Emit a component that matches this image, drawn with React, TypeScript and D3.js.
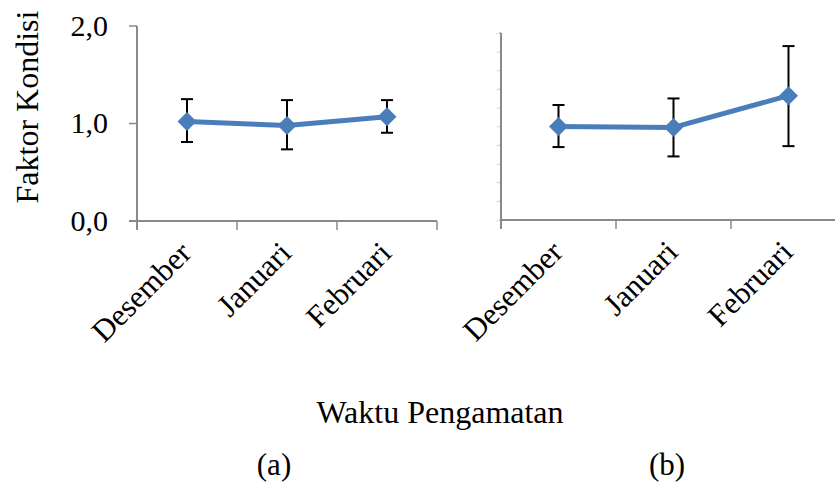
import React from "react";
import { scaleBand, scaleLinear, line, range } from "d3";

// categories and values
const months = ["Desember", "Januari", "Februari"];
const meanA = [1.02, 0.98, 1.07];
const upperA = [1.25, 1.24, 1.24];
const lowerA = [0.81, 0.735, 0.905];
const meanB = [1.0, 0.99, 1.33];
const upperB = [1.23, 1.3, 1.86];
const lowerB = [0.78, 0.68, 0.79];
const ticksA = [0, 1, 2];
const ticksB = range(0, 2.01, 0.2);

const BLUE = "#4a7ebb";
const AXIS = "#8a8a8a";
const FONT = '"Liberation Serif", "Times New Roman", Times, serif';

type PanelProps = {
  x0: number;
  x1: number;
  yTop: number;
  yBottom: number;
  mean: number[];
  upper: number[];
  lower: number[];
  ticks: number[];
  tickSize: number;
  tickLen: number;
  tickGap: number;
};

function Panel({ x0, x1, yTop, yBottom, mean, upper, lower, ticks, tickSize, tickLen, tickGap }: PanelProps) {
  const x = scaleBand<string>().domain(months).range([x0, x1]);
  const y = scaleLinear().domain([0, 2]).range([yBottom, yTop]);
  const cx = (m: string) => (x(m) as number) + x.bandwidth() / 2;
  const pts = months.map((m, i) => [cx(m), y(mean[i])] as [number, number]);
  const path = line()(pts) || "";
  const bounds = months.map((m) => x(m) as number).concat([x1]);

  return (
    <g>
      {/* y axis */}
      <line x1={x0} x2={x0} y1={yTop} y2={yBottom + 9} stroke={AXIS} strokeWidth={2} />
      {ticks.map((t) => (
        <g key={t}>
          <line x1={x0 - tickLen} x2={x0} y1={y(t)} y2={y(t)} stroke={AXIS} strokeWidth={1.5} />
          <text
            x={x0 - tickLen - tickGap}
            y={y(t)}
            dy="0.33em"
            textAnchor="end"
            fontSize={tickSize}
            fill={tickSize > 5 ? "#000" : "#999"}
            style={{ fontFamily: FONT }}
          >
            {t.toFixed(1).replace(".", ",")}
          </text>
        </g>
      ))}
      {/* x axis */}
      <line x1={x0 - (tickLen > 3 ? tickLen : 0)} x2={x1} y1={yBottom} y2={yBottom} stroke={AXIS} strokeWidth={2} />
      {bounds.map((b, i) => (
        <line key={i} x1={b} x2={b} y1={yBottom} y2={yBottom + 9} stroke={AXIS} strokeWidth={1.5} />
      ))}
      {months.map((m) => (
        <text
          key={m}
          transform={`translate(${cx(m) + 6},${yBottom + 34}) rotate(-45)`}
          textAnchor="end"
          fontSize={31}
          style={{ fontFamily: FONT }}
        >
          {m}
        </text>
      ))}
      {/* error bars */}
      {months.map((m, i) => (
        <g key={m} stroke="#000" strokeWidth={2}>
          <line x1={cx(m)} x2={cx(m)} y1={y(upper[i])} y2={y(lower[i])} />
          <line x1={cx(m) - 6} x2={cx(m) + 6} y1={y(upper[i])} y2={y(upper[i])} />
          <line x1={cx(m) - 6} x2={cx(m) + 6} y1={y(lower[i])} y2={y(lower[i])} />
        </g>
      ))}
      <path d={path} fill="none" stroke={BLUE} strokeWidth={5} strokeLinejoin="round" />
      {pts.map(([px, py], i) => (
        <path key={i} d={`M${px},${py - 9.5}L${px + 9.5},${py}L${px},${py + 9.5}L${px - 9.5},${py}Z`} fill={BLUE} />
      ))}
    </g>
  );
}

export default function App() {
  const tx = { fontFamily: FONT };
  return (
    <svg width={835} height={485} style={{ position: "absolute", left: 0, top: 0, background: "#fff" }}>
      <rect width={835} height={485} fill="#fff" />
      <text transform="translate(38,107) rotate(-90)" textAnchor="middle" fontSize={32} style={tx}>
        Faktor Kondisi
      </text>
      <Panel
        x0={137}
        x1={437}
        yTop={26}
        yBottom={221}
        mean={meanA}
        upper={upperA}
        lower={lowerA}
        ticks={ticksA}
        tickSize={30}
        tickLen={8}
        tickGap={21}
      />
      <Panel
        x0={501}
        x1={846}
        yTop={33}
        yBottom={220}
        mean={meanB}
        upper={upperB}
        lower={lowerB}
        ticks={ticksB}
        tickSize={2.5}
        tickLen={1.5}
        tickGap={1}
      />
      <text x={440} y={423} textAnchor="middle" fontSize={32} style={tx}>
        Waktu Pengamatan
      </text>
      <text x={274} y={475} textAnchor="middle" fontSize={31} style={tx}>
        (a)
      </text>
      <text x={667} y={475} textAnchor="middle" fontSize={31} style={tx}>
        (b)
      </text>
    </svg>
  );
}
